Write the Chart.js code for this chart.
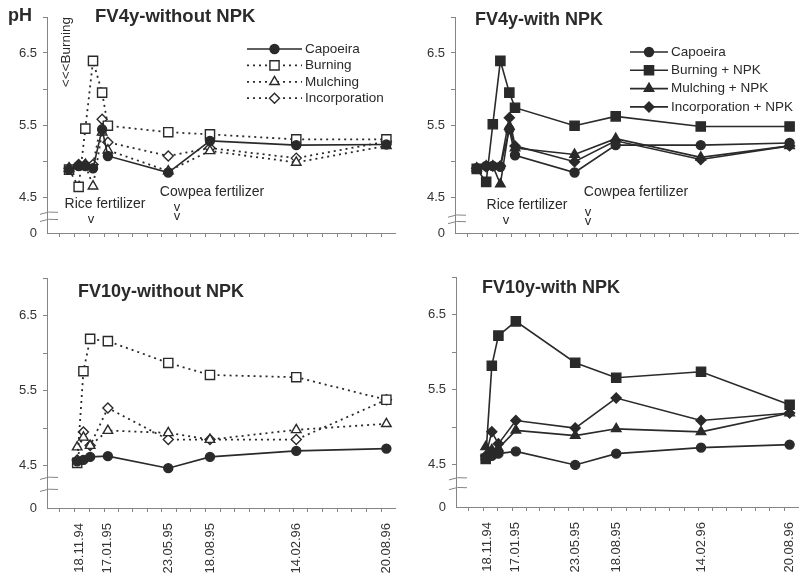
<!DOCTYPE html>
<html>
<head>
<meta charset="utf-8">
<script src="https://cdn.jsdelivr.net/npm/chart.js@4.4.1/dist/chart.umd.min.js"></script>
<style>
  body { margin: 0; background: #fff; }
  #wrap { position: relative; width: 806px; height: 583px; overflow: hidden; background: #fff; }
  canvas { position: absolute; }
</style>
</head>
<body>
<div id="wrap">
  <canvas id="c1" width="403" height="250" style="left:0;top:0"></canvas>
  <canvas id="c2" width="403" height="250" style="left:403px;top:0"></canvas>
  <canvas id="c3" width="403" height="333" style="left:0;top:250px"></canvas>
  <canvas id="c4" width="403" height="333" style="left:403px;top:250px"></canvas>
</div>
<script>
// ---- data (dates dd.mm.yy, pH values) ----
const axisStart = '12.09.94';
const axisEnd = '07.09.96';
const dateTicks = ['18.11.94', '17.01.95', '23.05.95', '18.08.95', '14.02.96', '20.08.96'];
const yTicks = [4.5, 5.5, 6.5];

const datesFV4 = ['28.10.94', '17.11.94', '01.12.94', '17.12.94', '05.01.95', '17.01.95', '23.05.95', '18.08.95', '14.02.96', '20.08.96'];
const datesFV10 = ['14.11.94', '27.11.94', '11.12.94', '17.01.95', '23.05.95', '18.08.95', '14.02.96', '20.08.96'];

const namesWithout = ['Capoeira', 'Burning', 'Mulching', 'Incorporation'];
const namesWith = ['Capoeira', 'Burning + NPK', 'Mulching + NPK', 'Incorporation + NPK'];

// FV4y-without NPK
const fv4CapoeiraA = [4.88, 4.93, 4.93, 4.90, 5.44, 5.07, 4.84, 5.28, 5.22, 5.23];
const fv4Burning = [4.88, 4.64, 5.45, 6.39, 5.95, 5.49, 5.40, 5.37, 5.30, 5.30];
const fv4Mulching = [4.90, 4.93, 4.95, 4.65, 5.40, 5.15, 4.86, 5.14, 4.98, 5.21];
const fv4Incorp = [4.90, 4.95, 4.95, 4.95, 5.58, 5.26, 5.07, 5.18, 5.04, 5.27];
// FV4y-with NPK
const fv4CapoeiraB = [4.90, 4.93, 4.93, 4.92, 5.44, 5.08, 4.84, 5.22, 5.22, 5.25];
const fv4BurningNPK = [4.89, 4.71, 5.51, 6.39, 5.95, 5.74, 5.49, 5.62, 5.48, 5.48];
const fv4MulchingNPK = [4.90, 4.93, 4.93, 4.68, 5.48, 5.18, 5.09, 5.31, 5.05, 5.21];
const fv4IncorpNPK = [4.90, 4.92, 4.93, 4.93, 5.60, 5.21, 4.99, 5.28, 5.02, 5.21];
// FV10y-without NPK
const fv10CapoeiraA = [4.56, 4.58, 4.62, 4.63, 4.47, 4.62, 4.70, 4.73];
const fv10Burning = [4.54, 5.76, 6.19, 6.16, 5.87, 5.71, 5.68, 5.38];
const fv10Mulching = [4.75, 4.88, 4.77, 4.97, 4.94, 4.85, 4.98, 5.06];
const fv10Incorp = [4.58, 4.95, 4.77, 5.27, 4.85, 4.85, 4.85, 5.38];
// FV10y-with NPK
const fv10CapoeiraB = [4.58, 4.62, 4.65, 4.68, 4.50, 4.65, 4.73, 4.77];
const fv10BurningNPK = [4.58, 5.82, 6.22, 6.41, 5.86, 5.66, 5.74, 5.30];
const fv10MulchingNPK = [4.74, 4.70, 4.72, 4.96, 4.89, 4.98, 4.94, 5.19];
const fv10IncorpNPK = [4.62, 4.94, 4.78, 5.09, 4.99, 5.39, 5.09, 5.19];

// ---- helpers ----
const ink = '#2a2a2a';
const axisGray = '#858585';
const fontFam = '"Liberation Sans", Arial, sans-serif';

function dayNum(s) {
  const p = s.split('.').map(Number);
  return Date.UTC(1900 + p[2], p[1] - 1, p[0]) / 864e5;
}
const xMin = dayNum(axisStart), xMax = dayNum(axisEnd);
const labelDays = dateTicks.map(dayNum);

function monthTicks() {
  const out = [];
  for (let y = 1994; y <= 1996; y++) {
    for (let m = 0; m < 12; m++) {
      const d = Date.UTC(y, m, 9) / 864e5;
      if (d > xMin && d < xMax) out.push(d);
    }
  }
  return out;
}

function points(dates, vals) {
  return dates.map((d, i) => ({ x: dayNum(d), y: vals[i] }));
}

const shapes = ['circle', 'rect', 'triangle', 'rectRot'];
const radii = [4.5, 6.5, 5.5, 5];

function series(names, dates, lists, withNPK) {
  return lists.map((vals, i) => {
    const open = !withNPK && i > 0;
    return {
      label: names[i],
      data: points(dates, vals),
      borderColor: ink,
      borderWidth: open ? 1.8 : 1.6,
      borderDash: open ? [2, 4] : [],
      pointStyle: shapes[i],
      pointRadius: radii[i],
      pointBorderWidth: 1.4,
      pointBorderColor: ink,
      pointBackgroundColor: open ? '#fff' : ink,
      tension: 0,
      fill: false,
      clip: false
    };
  });
}

const notes = {
  id: 'notes',
  afterDatasetsDraw(chart, args, opts) {
    const ctx = chart.ctx;
    const ys = chart.scales.y;
    const x0 = chart.chartArea.left;
    ctx.save();
    // axis break marks
    ctx.strokeStyle = axisGray;
    ctx.lineWidth = 1;
    (opts.breaks || []).forEach(v => {
      const py = ys.getPixelForValue(v);
      ctx.beginPath();
      ctx.moveTo(x0 - 7, py + 1.5);
      ctx.quadraticCurveTo(x0 + 1, py - 2, x0 + 11, py - 0.5);
      ctx.stroke();
    });
    // texts
    ctx.fillStyle = ink;
    (opts.texts || []).forEach(t => {
      ctx.save();
      ctx.font = (t.bold ? 'bold ' : '') + t.size + 'px ' + fontFam;
      ctx.textAlign = t.align || 'left';
      ctx.textBaseline = 'middle';
      ctx.translate(t.x, t.y);
      if (t.rot) ctx.rotate(t.rot);
      ctx.fillText(t.text, 0, 0);
      ctx.restore();
    });
    // legend: line sample with marker
    const lg = opts.legend;
    if (lg) {
      ctx.font = '13.5px ' + fontFam;
      ctx.textAlign = 'left';
      ctx.textBaseline = 'middle';
      chart.data.datasets.forEach((ds, i) => {
        const y = lg.y + i * lg.step;
        ctx.strokeStyle = ds.borderColor;
        ctx.lineWidth = ds.borderWidth;
        ctx.setLineDash(ds.borderDash);
        ctx.beginPath();
        ctx.moveTo(lg.x1, y);
        ctx.lineTo(lg.x2, y);
        ctx.stroke();
        ctx.setLineDash([]);
        ctx.fillStyle = ds.pointBackgroundColor;
        ctx.strokeStyle = ds.pointBorderColor;
        ctx.lineWidth = ds.pointBorderWidth;
        Chart.helpers.drawPoint(ctx, { pointStyle: ds.pointStyle, radius: ds.pointRadius, borderWidth: ds.pointBorderWidth, rotation: 0 }, (lg.x1 + lg.x2) / 2, y);
        ctx.fillStyle = ink;
        ctx.fillText(ds.label, lg.x2 + 3, y);
      });
    }
    ctx.restore();
  }
};

function makePanel(id, datasets, p) {
  const yMin = p.yMin;
  new Chart(document.getElementById(id), {
    type: 'line',
    data: { datasets: datasets },
    options: {
      responsive: false,
      animation: false,
      devicePixelRatio: 1,
      layout: { padding: { top: p.top, right: p.right, left: 0, bottom: 0 } },
      plugins: {
        legend: { display: false },
        tooltip: { enabled: false },
        notes: { texts: p.texts, legend: p.legend, breaks: p.breaks }
      },
      scales: {
        x: {
          type: 'linear',
          min: xMin,
          max: xMax,
          afterBuildTicks: s => {
            s.ticks = monthTicks().concat(labelDays).sort((a, b) => a - b).map(v => ({ value: v }));
          },
          afterFit: s => {
            s.height = p.xHeight;
            s.paddingLeft = 0;
            s.paddingRight = 0;
          },
          border: { display: true, color: axisGray, width: 1 },
          grid: {
            drawOnChartArea: false,
            tickLength: 4,
            color: c => (c.tick && labelDays.includes(c.tick.value)) ? 'rgba(0,0,0,0)' : axisGray
          },
          ticks: {
            display: p.dateLabels,
            autoSkip: false,
            minRotation: 90,
            maxRotation: 90,
            padding: 11,
            color: '#333',
            font: { family: fontFam, size: 13 },
            callback: v => {
              const k = labelDays.indexOf(v);
              return k >= 0 ? dateTicks[k] : '';
            }
          }
        },
        y: {
          min: yMin,
          max: 7,
          afterBuildTicks: s => {
            s.ticks = [yMin, 4.5, 5, 5.5, 6, 6.5, 7].map(v => ({ value: v }));
          },
          afterFit: s => { s.width = p.yWidth; },
          border: { display: true, color: axisGray, width: 1 },
          grid: {
            drawOnChartArea: false,
            tickLength: 4,
            color: c => (c.tick && c.tick.value === yMin) ? 'rgba(0,0,0,0)' : axisGray
          },
          ticks: {
            padding: 6,
            color: '#333',
            font: { family: fontFam, size: 13 },
            callback: v => v === yMin ? '0' : (yTicks.includes(v) ? v.toFixed(1) : '')
          }
        }
      }
    },
    plugins: [notes]
  });
}

makePanel('c1', series(namesWithout, datesFV4, [fv4CapoeiraA, fv4Burning, fv4Mulching, fv4Incorp], false), {
  yMin: 4.0, top: 17, right: 8, yWidth: 47, xHeight: 17, dateLabels: false,
  breaks: [4.28, 4.18],
  legend: { x1: 247, x2: 302, y: 49, step: 16.4 },
  texts: [
    { text: 'pH', x: 8, y: 16, size: 18, bold: true },
    { text: 'FV4y-without NPK', x: 95, y: 17, size: 18.5, bold: true },
    { text: '<<<Burning', x: 66, y: 17, size: 13.5, align: 'right', rot: -Math.PI / 2 },
    { text: 'Rice fertilizer', x: 105, y: 204, size: 14, align: 'center' },
    { text: 'v', x: 91, y: 219, size: 13, align: 'center' },
    { text: 'Cowpea fertilizer', x: 212, y: 192, size: 14, align: 'center' },
    { text: 'v', x: 177, y: 207, size: 13, align: 'center' },
    { text: 'v', x: 177, y: 216, size: 13, align: 'center' }
  ]
});

makePanel('c2', series(namesWith, datesFV4, [fv4CapoeiraB, fv4BurningNPK, fv4MulchingNPK, fv4IncorpNPK], true), {
  yMin: 4.0, top: 17, right: 3, yWidth: 52, xHeight: 17, dateLabels: false,
  breaks: [4.24, 4.15],
  legend: { x1: 227, x2: 265, y: 52, step: 18.3 },
  texts: [
    { text: 'FV4y-with NPK', x: 72, y: 20, size: 18, bold: true },
    { text: 'Rice fertilizer', x: 124, y: 205, size: 14, align: 'center' },
    { text: 'v', x: 103, y: 220, size: 13, align: 'center' },
    { text: 'Cowpea fertilizer', x: 233, y: 192, size: 14, align: 'center' },
    { text: 'v', x: 185, y: 212, size: 13, align: 'center' },
    { text: 'v', x: 185, y: 221, size: 13, align: 'center' }
  ]
});

makePanel('c3', series(namesWithout, datesFV10, [fv10CapoeiraA, fv10Burning, fv10Mulching, fv10Incorp], false), {
  yMin: 3.94, top: 28, right: 8, yWidth: 47, xHeight: 75, dateLabels: true,
  breaks: [4.34, 4.18],
  texts: [
    { text: 'FV10y-without NPK', x: 78, y: 42, size: 18, bold: true }
  ]
});

makePanel('c4', series(namesWith, datesFV10, [fv10CapoeiraB, fv10BurningNPK, fv10MulchingNPK, fv10IncorpNPK], true), {
  yMin: 3.94, top: 27, right: 2, yWidth: 53, xHeight: 76, dateLabels: true,
  breaks: [4.32, 4.19],
  texts: [
    { text: 'FV10y-with NPK', x: 79, y: 38, size: 18, bold: true }
  ]
});
</script>
</body>
</html>
